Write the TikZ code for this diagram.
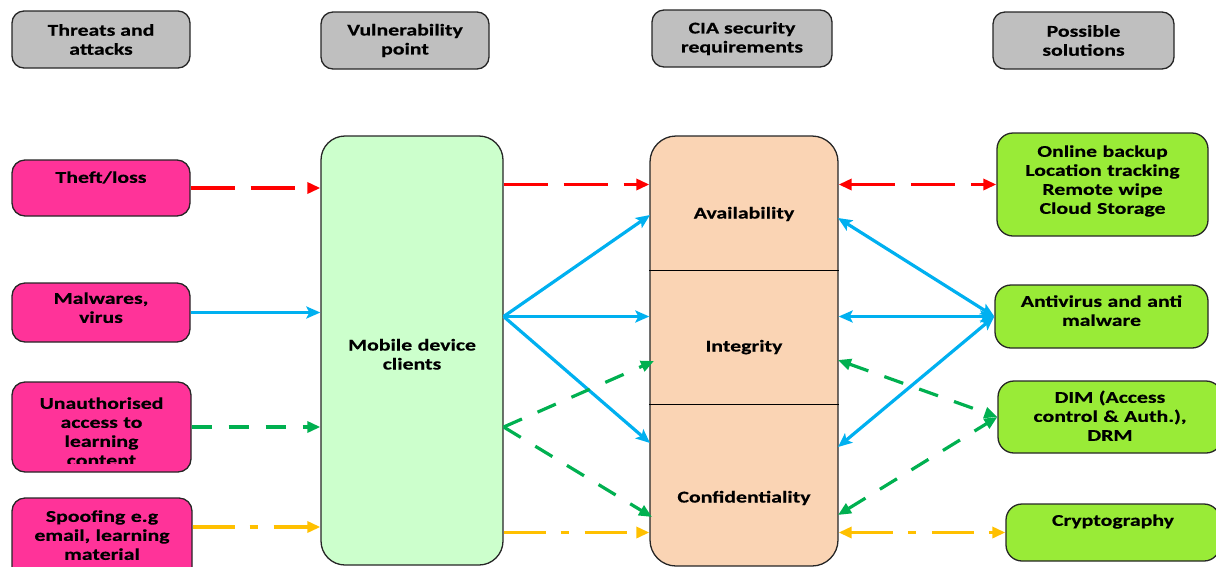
\documentclass[tikz,border=0pt]{standalone}
\usepackage{fontspec}
\setmainfont[FakeStretch=1.32,FakeBold=0.4]{Carlito}
\usetikzlibrary{arrows.meta,fit}
\definecolor{hdrgray}{RGB}{191,191,191}
\definecolor{threatpink}{RGB}{255,51,153}
\definecolor{mobgreen}{RGB}{204,255,204}
\definecolor{ciapeach}{RGB}{250,212,180}
\definecolor{solgreen}{RGB}{153,235,55}
\definecolor{arrred}{RGB}{255,0,0}
\definecolor{arrblue}{RGB}{0,176,240}
\definecolor{arrgreen}{RGB}{0,176,80}
\definecolor{arryellow}{RGB}{255,192,0}
\begin{document}
\begin{tikzpicture}[x=1pt,y=-1pt,
  font=\bfseries\fontsize{16.5}{19}\selectfont,
  frame/.style={draw=black!85, line width=1.3pt, inner sep=0pt},
  hdr/.style={frame, fill=hdrgray, rounded corners=12pt, align=center},
  threat/.style={frame, fill=threatpink, rounded corners=13pt},
  sol/.style={frame, fill=solgreen, rounded corners=16pt},
  lbl/.style={inner sep=0pt, align=center, anchor=base, text width=#1},
  lbl/.default=176pt,
  conn/.style={line width=3.2pt},
  tri/.tip={Triangle[length=13pt,width=11pt]},
  stl/.tip={Stealth[length=14pt,width=12pt,inset=3pt]},
  redarr/.style={conn, draw=arrred, dash pattern=on 44pt off 16pt, -{tri}, arrred},
  bluearr/.style={conn, draw=arrblue, -{stl}, arrblue},
  greenarr/.style={conn, draw=arrgreen, dash pattern=on 20pt off 17pt, -{tri}, arrgreen},
  yelarr/.style={conn, draw=arryellow, dash pattern=on 42pt off 15pt on 8pt off 16pt, -{tri}, arryellow}]
\useasboundingbox (0,0) rectangle (1216,566);

% column headings
\node[hdr, minimum width=178pt, minimum height=57pt] (hthr) at (101,39.5) {Threats and\\attacks};
\node[hdr, minimum width=168pt, minimum height=57pt] (hvul) at (405,40.5) {Vulnerability\\point};
\node[hdr, minimum width=180pt, minimum height=57pt] (hcia) at (742,38.5) {CIA security\\requirements};
\node[hdr, minimum width=181pt, minimum height=57pt] (hsol) at (1083.5,40.5) {Possible\\solutions};

% threats
\node[threat, fit={(12,160) (190,216)}] (theft) {};
\node[lbl] at ([yshift=-23.5pt]theft.north) {Theft/loss};
\node[threat, fit={(12,283) (190,342)}] (malw) {};
\node[lbl] at ([yshift=-21.5pt]malw.north) {Malwares,\\virus};
\node[threat, fit={(12,382) (191,472)}] (unauth) {};
\begin{scope}
  \clip (12,382) rectangle (191,463);
  \node[lbl] at ([yshift=-27.5pt]unauth.north) {Unauthorised\\access to\\learning\\content};
\end{scope}
\node[threat, fit={(12,498) (192,584)}] (spoof) {};
\node[lbl] at ([yshift=-24.5pt]spoof.north) {Spoofing e.g\\email, learning\\material};

% vulnerability point
\node[frame, fill=mobgreen, rounded corners=24pt, fit={(321,136) (503,565)}] (mob) {};
\node[lbl] (mobtxt) at ([yshift=0pt]mob.center) {Mobile device\\clients};

% CIA requirements
\node[frame, fill=ciapeach, rounded corners=26pt, fit={(650,136) (838,566)}] (cia) {};
\draw[line width=1pt] (cia.west |- 0,270) -- (cia.east |- 0,270);
\draw[line width=1pt] (cia.west |- 0,404) -- (cia.east |- 0,404);
\node[lbl] (avail) at (744,218.5) {Availability};
\node[lbl] (integ) at (744,351.5) {Integrity};
\node[lbl] (conf) at (744,502.5) {Confidentiality};

% solutions
\node[sol, fit={(997,133) (1208,236)}] (online) {};
\node[lbl=205pt] at ([yshift=-24.5pt]online.north) {Online backup\\Location tracking\\Remote wipe\\Cloud Storage};
\node[sol, fit={(995,285) (1208,348)}] (antiv) {};
\node[lbl=205pt] at ([yshift=-22.5pt]antiv.north) {Antivirus and anti\\malware};
\node[sol, fit={(998,381) (1222,453)}] (dim) {};
\node[lbl=205pt] at ([yshift=-22.5pt]dim.north) {DIM (Access\\control \& Auth.),\\DRM};
\node[sol, fit={(1006,504) (1220,561)}] (crypto) {};
\node[lbl=205pt] at ([yshift=-22.5pt]crypto.north) {Cryptography};

% ports on the CIA box
\coordinate (ciaL1) at (650,215);
\coordinate (ciaL3) at (650,443);
\coordinate (ciaGI) at (654,361);
\coordinate (ciaGC) at (652,517);
\coordinate (ciaR1) at (838,218);
\coordinate (ciaR3) at (838,447);
\coordinate (ciaRI) at (838,360);
\coordinate (ciaRC) at (838,515);
\coordinate (hub) at (mob.east |- antiv.west);
\coordinate (gvert) at (mob.east |- unauth.east);
\coordinate (spy) at ([yshift=14pt]spoof.east);

% theft / loss
\draw[redarr] (theft.east) -- (theft.east -| mob.west);
\draw[redarr] (mob.east |- online.west) -- (cia.west |- online.west);
\draw[redarr, {tri}-{tri}] (cia.east |- online.west) -- (online.west);

% malware
\draw[bluearr] (malw.east) -- (malw.east -| mob.west);
\draw[bluearr] (hub) -- (ciaL1);
\draw[bluearr] (hub) -- (cia.west |- antiv.west);
\draw[bluearr] (hub) -- (ciaL3);
\draw[bluearr, {stl}-{stl}] (ciaR1) -- (antiv.west);
\draw[bluearr, {stl}-{stl}] (cia.east |- antiv.west) -- (antiv.west);
\draw[bluearr, {stl}-{stl}] (ciaR3) -- (antiv.west);

% unauthorised access
\draw[greenarr] (unauth.east) -- (unauth.east -| mob.west);
\draw[greenarr] (gvert) -- (ciaGI);
\draw[greenarr] (gvert) -- (ciaGC);
\draw[greenarr, {tri}-{tri}] (ciaRI) -- (dim.west);
\draw[greenarr, {tri}-{tri}] (ciaRC) -- (dim.west);

% spoofing
\draw[yelarr] (spy) -- (spy -| mob.west);
\draw[yelarr] (mob.east |- crypto.west) -- (cia.west |- crypto.west);
\draw[yelarr, {tri}-{tri}] (cia.east |- crypto.west) -- (crypto.west);
\end{tikzpicture}
\end{document}
